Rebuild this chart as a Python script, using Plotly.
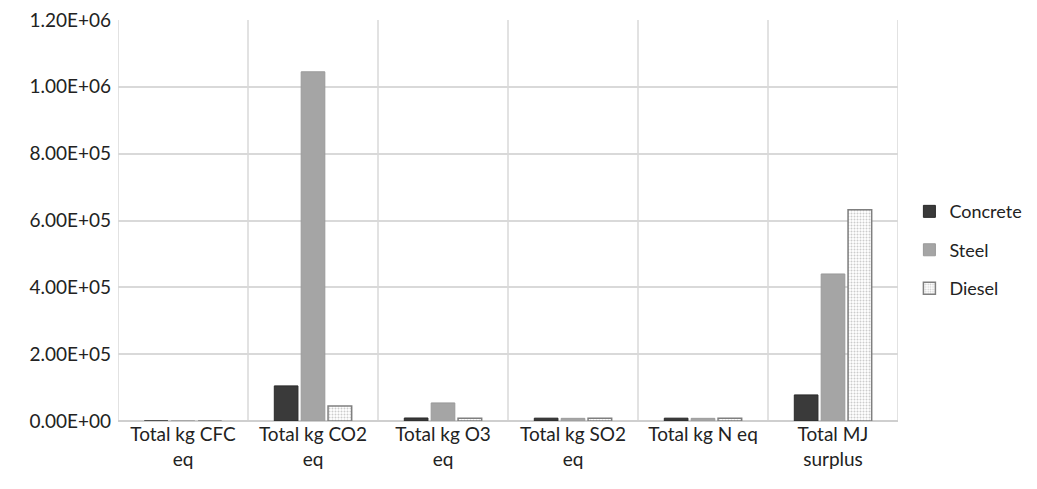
import plotly.graph_objects as go

categories = ["Total kg CFC<br>eq", "Total kg CO2<br>eq", "Total kg O3<br>eq",
              "Total kg SO2<br>eq", "Total kg N eq", "Total MJ<br>surplus"]
concrete = [0, 105000, 9000, 8500, 8500, 78000]
steel = [0, 1045000, 54000, 8000, 8000, 440000]
diesel = [0, 45000, 8500, 8500, 8500, 632000]
yticks = [0, 200000, 400000, 600000, 800000, 1000000, 1200000]
yticktext = ["0.00E+00", "2.00E+05", "4.00E+05", "6.00E+05", "8.00E+05", "1.00E+06", "1.20E+06"]

FONT = "Lato, 'Open Sans', sans-serif"

fig = go.Figure()
fig.add_trace(go.Bar(name="Concrete", x=categories, y=concrete, legendgroup="c",
                     marker=dict(color="#3a3a3a", line=dict(color="#2a2a2a", width=1))))
fig.add_trace(go.Bar(name="Steel", x=categories, y=steel, legendgroup="s",
                     marker=dict(color="#a5a5a5", line=dict(color="#9a9a9a", width=1))))
fig.add_trace(go.Bar(name="Diesel", x=categories, y=diesel, legendgroup="d",
                     marker=dict(color="white", line=dict(color="#7f7f7f", width=1.5),
                                 pattern=dict(shape=".", fgcolor="#999999", bgcolor="white",
                                              size=3, solidity=0.35))))

shapes = []
for i in range(len(categories) + 1):
    shapes.append(dict(type="line", xref="x", yref="paper", x0=i - 0.5, x1=i - 0.5,
                       y0=0, y1=1, line=dict(color="#d9d9d9", width=1.5), layer="below"))

# page body has an 8px margin; shrink the figure so the plot lands where the reference has it
fig.update_layout(
    width=1029, height=481,
    margin=dict(l=110, r=139, t=12, b=68),
    plot_bgcolor="white", paper_bgcolor="white",
    barmode="group", bargap=0.38, bargroupgap=0.12,
    font=dict(family=FONT, size=19, color="#222222"),
    shapes=shapes,
    legend=dict(xref="container", x=0.876, y=0.426, xanchor="left", yanchor="middle",
                font=dict(size=18, color="#222222"), itemwidth=30,
                tracegroupgap=12, bgcolor="rgba(0,0,0,0)"),
    xaxis=dict(range=[-0.5, len(categories) - 0.5], showgrid=False, automargin=False,
               showline=False, ticks="", tickfont=dict(size=19)),
    yaxis=dict(range=[0, 1200000], tickvals=yticks, ticktext=yticktext, automargin=False,
               ticklabeloverflow="allow",
               showgrid=True, gridcolor="#d9d9d9", gridwidth=1.5,
               zeroline=True, zerolinecolor="#cfcfcf", zerolinewidth=2,
               ticks="", ticklabelstandoff=6, tickfont=dict(size=19)),
)

fig.write_html("out.html")
